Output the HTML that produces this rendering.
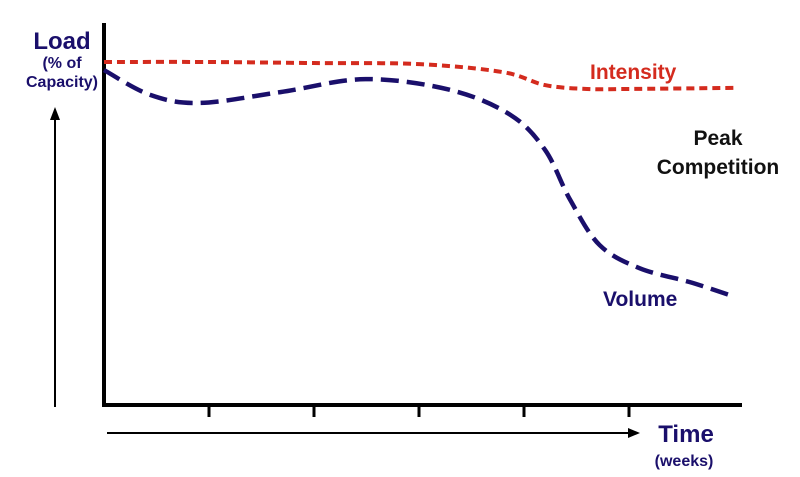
<!DOCTYPE html>
<html><head><meta charset="utf-8"><style>
body{margin:0;background:#fff;}
svg{display:block;font-family:"Liberation Sans",Arial,sans-serif;font-weight:bold;}
</style></head><body>
<svg id="chart" width="800" height="477" viewBox="0 0 800 477">
<g id="axes">
<line x1="104" y1="23" x2="104" y2="407" stroke="#000" stroke-width="4"/>
<line x1="102" y1="405" x2="742" y2="405" stroke="#000" stroke-width="4"/>
<line x1="55" y1="407" x2="55" y2="118" stroke="#000" stroke-width="2"/>
<polygon points="50,120 60,120 55,107" fill="#000"/>
<line x1="107" y1="433" x2="630" y2="433" stroke="#000" stroke-width="2"/>
<polygon points="628,428 628,438 640,433" fill="#000"/>
</g>
<g id="ticks"></g>
<text x="62" y="49" text-anchor="middle" font-size="24" fill="#1a0f6b">Load</text>
<text x="62" y="68" text-anchor="middle" font-size="16" fill="#1a0f6b">(% of</text>
<text x="62" y="87" text-anchor="middle" font-size="16" fill="#1a0f6b">Capacity)</text>
<text x="686" y="442" text-anchor="middle" font-size="24" fill="#1a0f6b">Time</text>
<text x="684" y="466" text-anchor="middle" font-size="16" fill="#1a0f6b">(weeks)</text>
<text x="590" y="79" font-size="21" fill="#d42b1e">Intensity</text>
<text x="603" y="306" font-size="21" fill="#1a0f6b">Volume</text>
<text x="718" y="145" text-anchor="middle" font-size="21" fill="#111">Peak</text>
<text x="718" y="174" text-anchor="middle" font-size="21" fill="#111">Competition</text>
<g id="series"></g>
</svg>
<script>
const tickWeeks=[1,2,3,4,5];
const intensityWeeks=[0,1,2,3,3.8,4.2,4.6,5,6];
const intensityValues=[98,98,97.7,97.4,95.1,91.4,90.3,90.3,90.6];
const volumeWeeks=[0,0.44,0.91,1.68,2.49,3.3,3.87,4.2,4.44,4.72,5.1,5.58,5.96];
const volumeValues=[95.7,88.6,86.3,89.4,93.1,90,82.9,72.9,58.6,45.7,39.1,35.1,31.4];
const NS="http://www.w3.org/2000/svg";
function xs(w){return 104+w*105;}
function ys(v){return 405-v*3.5;}
function smooth(pts){
  let d="M"+pts[0][0]+","+pts[0][1];
  for(let i=0;i<pts.length-1;i++){
    const p0=pts[Math.max(0,i-1)],p1=pts[i],p2=pts[i+1],p3=pts[Math.min(pts.length-1,i+2)];
    const c1=[p1[0]+(p2[0]-p0[0])/6,p1[1]+(p2[1]-p0[1])/6];
    const c2=[p2[0]-(p3[0]-p1[0])/6,p2[1]-(p3[1]-p1[1])/6];
    d+=" C"+c1+" "+c2+" "+p2;
  }
  return d;
}
const tg=document.getElementById('ticks');
tickWeeks.forEach(w=>{
  const l=document.createElementNS(NS,'line');
  
  
  l.setAttribute('x1',xs(w));l.setAttribute('x2',xs(w));
  l.setAttribute('y1',405);l.setAttribute('y2',417);
  l.setAttribute('stroke','#000');l.setAttribute('stroke-width','3');
  tg.appendChild(l);
});
const sg=document.getElementById('series');
const ip=document.createElementNS(NS,'path');


ip.setAttribute('d',smooth(intensityWeeks.map((w,i)=>[xs(w),ys(intensityValues[i])])));
ip.setAttribute('fill','none');ip.setAttribute('stroke','#d42b1e');
ip.setAttribute('stroke-width','4');ip.setAttribute('stroke-dasharray','8 5');
sg.appendChild(ip);
const vp=document.createElementNS(NS,'path');


vp.setAttribute('d',smooth(volumeWeeks.map((w,i)=>[xs(w),ys(volumeValues[i])])));
vp.setAttribute('fill','none');vp.setAttribute('stroke','#1a0f6b');
vp.setAttribute('stroke-width','4.5');vp.setAttribute('stroke-dasharray','18 8');
sg.appendChild(vp);
</script>
</body></html>
